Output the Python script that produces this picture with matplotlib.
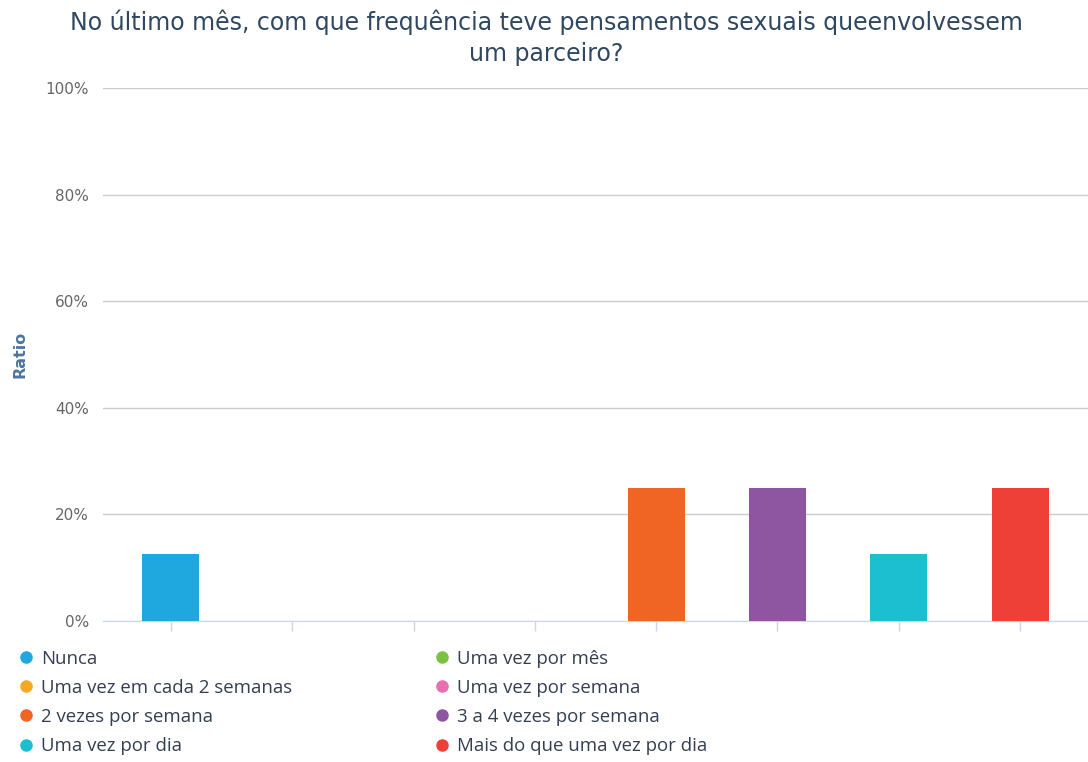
import matplotlib
matplotlib.use('Agg')
import matplotlib.pyplot as plt
from matplotlib.lines import Line2D
from matplotlib.ticker import FuncFormatter
import numpy as np

categorias = ['Nunca', 'Uma vez por mês', 'Uma vez em cada 2 semanas',
              'Uma vez por semana', '2 vezes por semana',
              '3 a 4 vezes por semana', 'Uma vez por dia',
              'Mais do que uma vez por dia']
valores = [12.5, 0, 0, 0, 25, 25, 12.5, 25]
cores = ['#1fa8e0', '#7cc142', '#f7a823', '#e86eb0', '#f06424',
         '#8e55a1', '#1bbfcf', '#ee4036']
titulo = 'No último mês, com que frequência teve pensamentos sexuais queenvolvessem\num parceiro?'

fig = plt.figure(figsize=(10.88, 7.62), dpi=100)
ax = fig.add_axes([0.0947, 0.185, 0.9053, 0.6995])

x = np.arange(len(categorias))
ax.bar(x, valores, width=0.47, color=cores, zorder=3)

ax.set_xlim(-0.56, 7.56)
ax.set_ylim(0, 100)
ax.set_yticks([0, 20, 40, 60, 80, 100])
ax.yaxis.set_major_formatter(FuncFormatter(lambda v, p: '%d%%' % v))
ax.grid(axis='y', color='#cccccc', linewidth=1, zorder=0)
ax.set_xticks(x)
ax.set_xticklabels([])
ax.tick_params(axis='x', length=7, color='#ccd6eb', width=1)
ax.tick_params(axis='y', length=0, pad=10, labelsize=11, labelcolor='#666666')
for s in ['top', 'right', 'left']:
    ax.spines[s].set_visible(False)
ax.spines['bottom'].set_color('#ccd6eb')

ax.set_ylabel('Ratio', color='#4d759e', fontsize=11.5, fontweight='bold')
ax.yaxis.set_label_coords(-0.077, 0.5)

fig.text(0.502, 0.988, titulo, ha='center', va='top', fontsize=17,
         color='#2f4760', linespacing=1.4)

# legenda: duas colunas (ordem por linhas como no original)
col1 = [0, 2, 4, 6]
col2 = [1, 3, 5, 7]
for idx, xpos in [(col1, 0.0152), (col2, 0.398)]:
    hs = [Line2D([], [], marker='o', linestyle='', markersize=8,
                 markerfacecolor=cores[i], markeredgecolor=cores[i]) for i in idx]
    leg = fig.legend(hs, [categorias[i] for i in idx], loc='upper left',
                     bbox_to_anchor=(xpos, 0.1476), frameon=False,
                     borderpad=0, borderaxespad=0, handlelength=1.0,
                     handletextpad=0.3, labelspacing=0.6,
                     prop={'family': 'Open Sans', 'size': 13.4})
    for t in leg.get_texts():
        t.set_color('#333f50')

fig.savefig('out.png', dpi=100)
